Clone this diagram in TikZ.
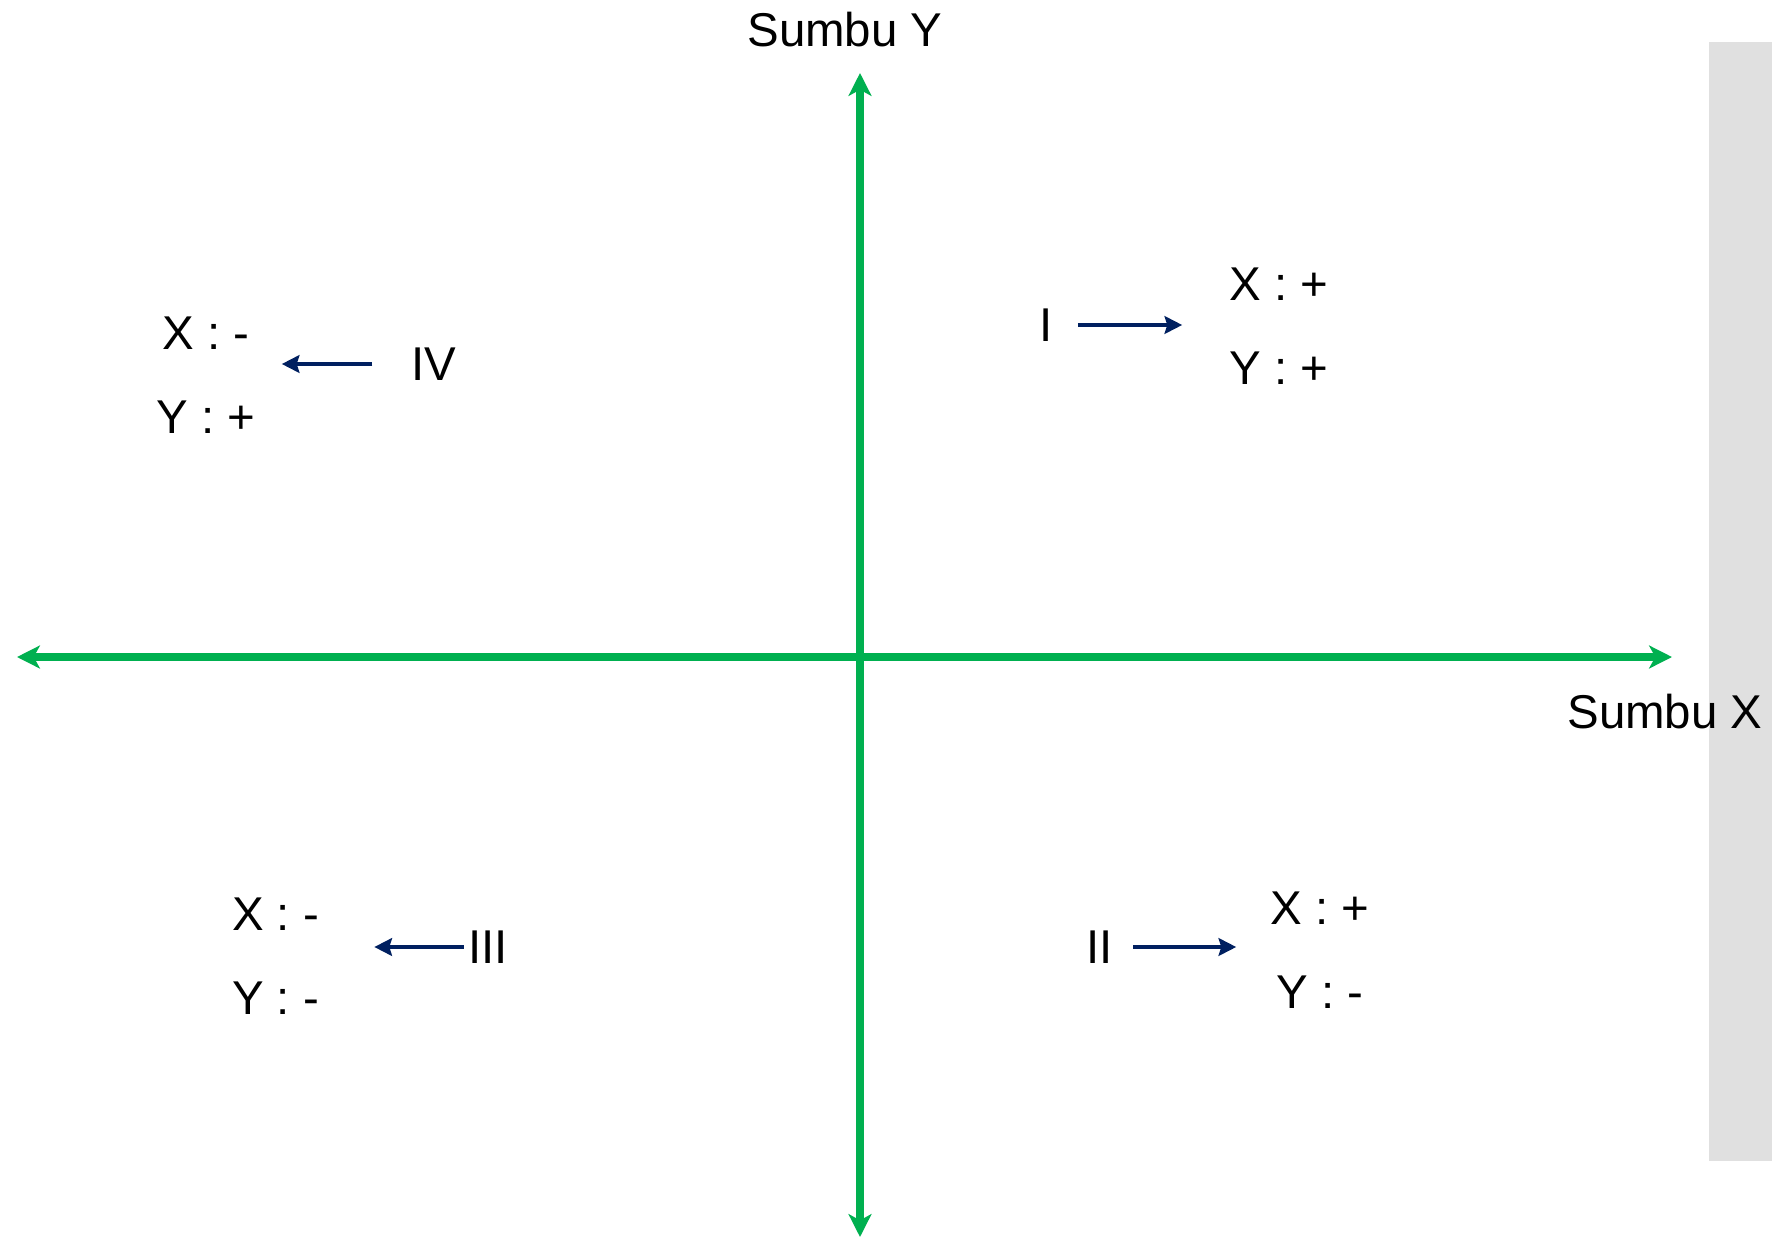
\documentclass[tikz,border=0pt]{standalone}
\usepackage{fontspec}
\setmainfont{Liberation Sans}
\usetikzlibrary{arrows.meta, positioning}
\definecolor{axisgreen}{RGB}{0,176,80}
\definecolor{arrownavy}{RGB}{0,32,96}
\definecolor{panelgray}{RGB}{224,224,224}
\tikzset{
  % Axes of the plane
  axisarrow/.style={
    {Stealth[length=13pt, width=13pt, inset=3.5pt]}-{Stealth[length=13pt, width=13pt, inset=3.5pt]},
    line width=4pt, color=axisgreen
  },
  % Quadrant pointer
  quadarrow/.style={-{Stealth[length=10pt, width=10pt, inset=1.5pt]}, line width=2.3pt, color=arrownavy},
  axislabel/.style={font=\fontsize{27}{30}\selectfont, inner sep=0pt},
  quadnum/.style={font=\fontsize{27}{30}\selectfont, inner sep=0pt},
  signbox/.style={font=\fontsize{27}{48}\selectfont, align=center, inner sep=0pt}
}
\begin{document}
\begin{tikzpicture}[x=0.02cm, y=-0.02cm]
  \useasboundingbox (0,0) rectangle (1772,1238);

  % Side panel
  \fill[panelgray] (1709,42) rectangle (1772,1161);

  % Axes
  \coordinate (xneg) at (17,657);
  \coordinate (xpos) at (1672,657);
  \coordinate (ypos) at (860,73);
  \coordinate (yneg) at (860,1237);
  \draw[axisarrow] (xneg) -- (xpos);
  \draw[axisarrow] (yneg) -- (ypos);

  \node[axislabel] (ylab) at (845,30) {Sumbu Y};
  \node[axislabel] (xlab) at (1665,712) {Sumbu X};

  % Quadrant I
  \node[quadnum] (q1) at (1046,325) {I};
  \node[signbox] (s1) at (1279,326) {X : +\\Y : +};
  \draw[quadarrow, shorten <=0.5cm, shorten >=0.94cm] (q1.east) -- (q1.east -| s1.west);

  % Quadrant II
  \node[quadnum] (q2) at (1099.5,947) {II};
  \node[signbox] (s2) at (1320,950) {X : +\\Y : -};
  \draw[quadarrow, shorten <=0.4cm, shorten >=0.68cm] (q2.east) -- (q2.east -| s2.west);

  % Quadrant III
  \node[quadnum] (q3) at (488,947) {III};
  \node[signbox] (s3) at (275.5,956) {X : -\\Y : -};
  \draw[quadarrow, shorten <=0.08cm, shorten >=1.1cm] (q3.west) -- (q3.west -| s3.east);

  % Quadrant IV
  \node[quadnum] (q4) at (434,364) {IV};
  \node[signbox] (s4) at (206,375) {X : -\\Y : +};
  \draw[quadarrow, shorten <=0.78cm, shorten >=0.52cm] (q4.west) -- (q4.west -| s4.east);
\end{tikzpicture}
\end{document}
